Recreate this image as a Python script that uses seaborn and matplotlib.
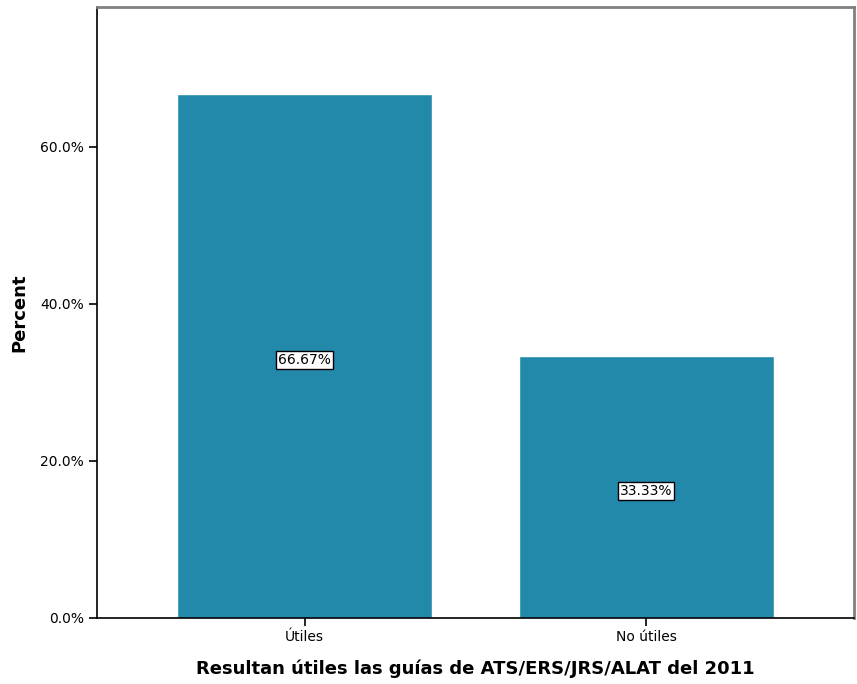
import matplotlib
matplotlib.use("Agg")
import matplotlib.pyplot as plt
import seaborn as sns
import pandas as pd
from matplotlib.ticker import FuncFormatter

categories = ["Útiles", "No útiles"]
percents = [66.67, 33.33]
labels = ["66.67%", "33.33%"]
yticks = [0, 20, 40, 60]

sns.set_style("white")
plt.rcParams['font.family'] = ['DejaVu Sans']
plt.rcParams['text.color'] = 'black'
plt.rcParams['axes.labelcolor'] = 'black'

df = pd.DataFrame({"cat": categories, "pct": percents})

fig = plt.figure(figsize=(8.57, 6.84), dpi=100)
ax = fig.add_axes([0.1132, 0.0965, 0.8833, 0.8933])
sns.barplot(data=df, x="cat", y="pct", color="#2389AB", saturation=1, width=0.747, ax=ax)

ax.set_xlim(-0.608, 1.609)
ax.set_ylim(0, 77.8)
ax.set_yticks(yticks)
ax.yaxis.set_major_formatter(FuncFormatter(lambda v, p: f"{v:.1f}%"))
ax.tick_params(axis="both", which="both", direction="out", length=6, width=1.2,
               labelsize=10, colors="black", left=True, bottom=True)
ax.tick_params(axis="x", pad=3)
for s in ["left", "bottom"]:
    ax.spines[s].set_color("black")
    ax.spines[s].set_linewidth(1.2)
for s in ["top", "right"]:
    ax.spines[s].set_color("#808080")
    ax.spines[s].set_linewidth(2)

ax.set_xlabel("Resultan útiles las guías de ATS/ERS/JRS/ALAT del 2011",
              fontsize=13, fontweight="bold", labelpad=11, color="black")
ax.set_ylabel("Percent", fontsize=13, fontweight="bold", labelpad=8, color="black")

for i, (v, t) in enumerate(zip(percents, labels)):
    ax.text(i, v / 2 - 0.45, t, ha="center", va="center", fontsize=10, color="black",
            bbox=dict(boxstyle="square,pad=0.15", facecolor="white", edgecolor="black", linewidth=1))

fig.savefig("out.png", dpi=100)
